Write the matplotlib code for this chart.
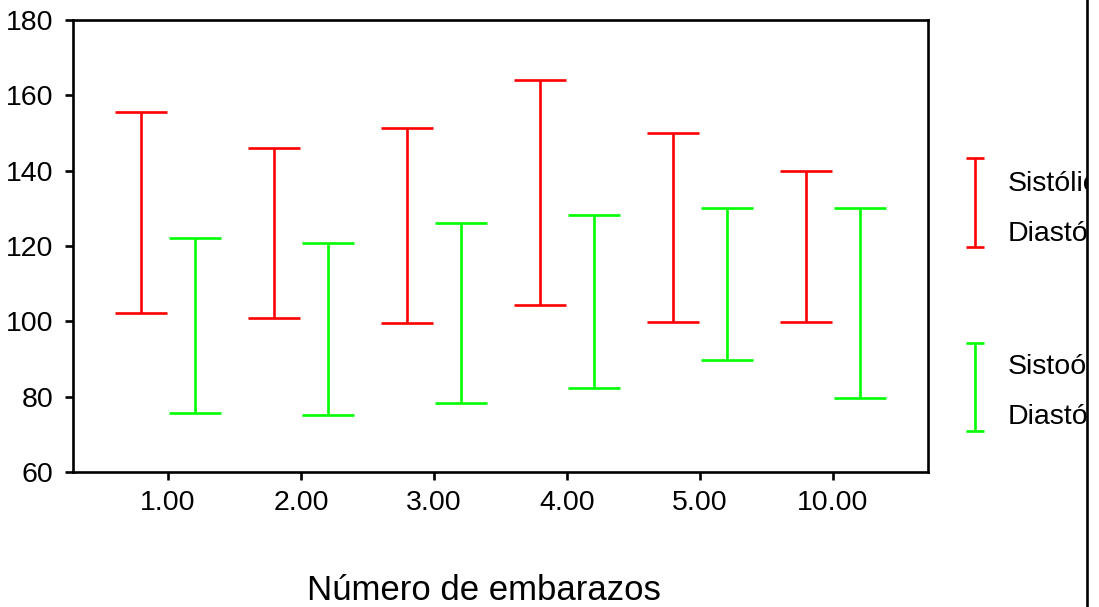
import matplotlib
matplotlib.use("Agg")
import matplotlib.pyplot as plt
import numpy as np

plt.rcParams['font.family'] = ['Liberation Sans', 'DejaVu Sans']

categories = ["1.00", "2.00", "3.00", "4.00", "5.00", "10.00"]
sist_low = [102.3, 101.0, 99.6, 104.3, 99.8, 99.8]
sist_high = [155.5, 146.0, 151.3, 164.1, 150.1, 140.0]
diast_low = [75.7, 75.1, 78.3, 82.3, 89.8, 79.7]
diast_high = [122.2, 120.9, 126.1, 128.2, 130.1, 130.1]
legend_labels = ["Sistólica", "Diastólica", "Sistoólica", "Diastólica"]
yticks = [60, 80, 100, 120, 140, 160, 180]
xlabel = "Número de embarazos"

RED = "#FF0000"
GREEN = "#00FF00"
W, H = 1099, 607
LW = 1.9

fig = plt.figure(figsize=(W / 100, H / 100), dpi=100)
ax = fig.add_axes([73 / W, 1 - 472 / H, (928 - 73) / W, (472 - 20) / H])

x = np.arange(len(categories))
off = 0.2

def draw(ax, xs, lo, hi, color, capsize):
    lo = np.asarray(lo); hi = np.asarray(hi)
    mid = (lo + hi) / 2
    err = (hi - lo) / 2
    ax.errorbar(xs, mid, yerr=err, fmt='none', ecolor=color, elinewidth=LW,
                capsize=capsize, capthick=LW)

draw(ax, x - off, sist_low, sist_high, RED, 19)
draw(ax, x + off, diast_low, diast_high, GREEN, 19)

ax.set_xlim(-0.714, len(categories) - 1 + 0.714)
ax.set_ylim(60, 180)
ax.set_yticks(yticks)
ax.set_xticks(x)
ax.set_xticklabels(categories)
for s in ax.spines.values():
    s.set_linewidth(LW)
ax.tick_params(axis='both', direction='out', length=6, width=LW, labelsize=20.5)
ax.tick_params(axis='y', pad=8)
ax.tick_params(axis='x', pad=7)
ax.set_xlabel(xlabel, fontsize=25, va='center')
ax.xaxis.set_label_coords((484 - 73) / (928 - 73), -(590 - 472) / (472 - 20))

# legend panel (clipped at the right border line, as in the reference)
lax = fig.add_axes([930 / W, 0, (1087 - 930) / W, 1])
lax.set_xlim(930, 1087)
lax.set_ylim(H, 0)
lax.axis('off')
for (y0, y1, c, t1, t2, ty1, ty2) in [
    (157.7, 247, RED, legend_labels[0], legend_labels[1], 184, 234),
    (343, 431, GREEN, legend_labels[2], legend_labels[3], 367, 417),
]:
    lax.errorbar([974.5], [(y0 + y1) / 2], yerr=[(y1 - y0) / 2], fmt='none',
                 ecolor=c, elinewidth=LW, capsize=6.5, capthick=LW, clip_on=False)
    lax.text(1008, ty1, t1, fontsize=20.5, va='center', ha='left', clip_on=True)
    lax.text(1008, ty2, t2, fontsize=20.5, va='center', ha='left', clip_on=True)

fig.add_artist(plt.Line2D([1087 / W, 1087 / W], [0, 1], color='black', lw=LW,
                          transform=fig.transFigure))

fig.savefig("out.png", dpi=100)
